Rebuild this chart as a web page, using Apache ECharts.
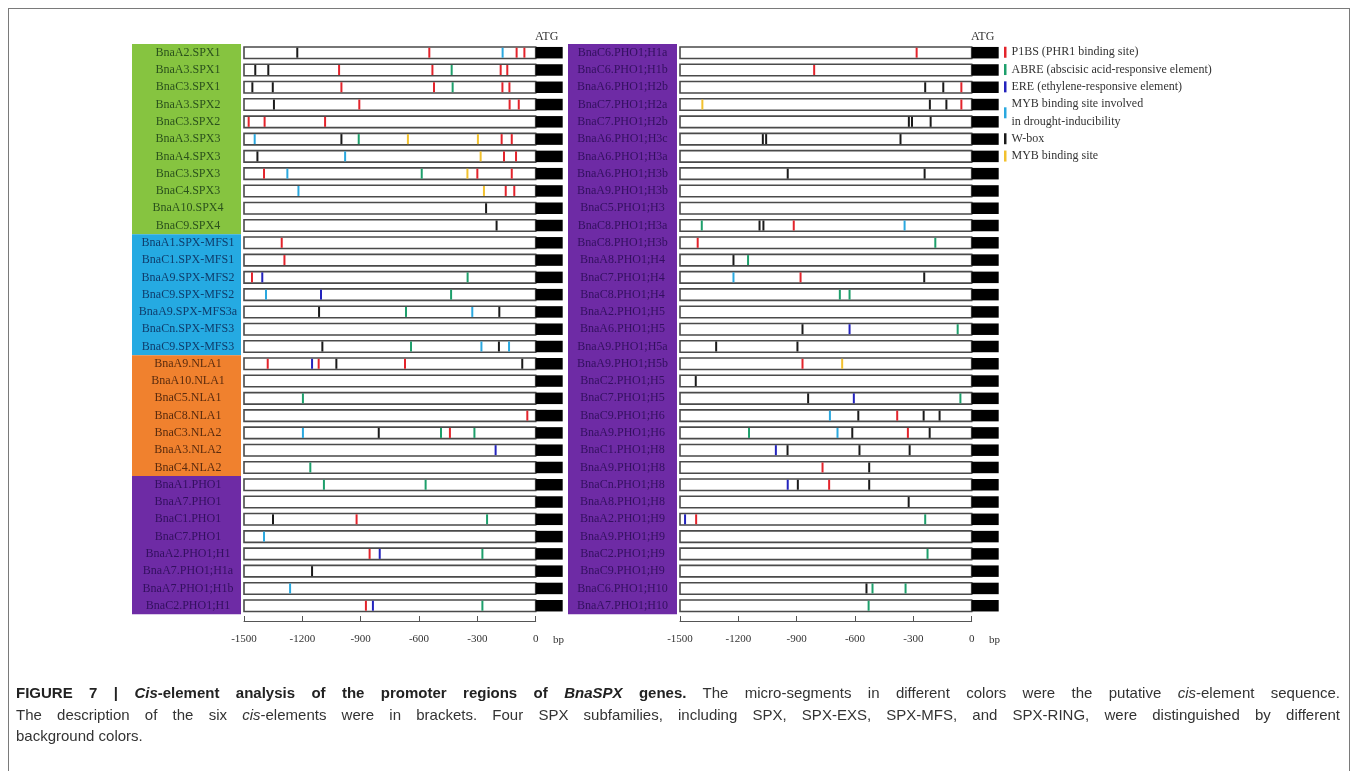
<!DOCTYPE html>
<html><head><meta charset="utf-8">
<script src="https://cdn.jsdelivr.net/npm/echarts@6/dist/echarts.min.js"></script>
<style>
html,body{margin:0;padding:0;background:#fff;}
#frame{position:absolute;left:8px;top:8px;width:1342px;height:800px;border:1px solid #7a7a7a;box-sizing:border-box;}
#chart{position:absolute;left:0;top:0;width:1358px;height:771px;}
#cap{position:absolute;left:16px;top:682px;width:1324px;font-family:"Liberation Sans",Arial,sans-serif;font-size:15px;line-height:21.5px;color:#333;}
#cap div{text-align:justify;text-align-last:justify;white-space:nowrap;}
#cap div.last{text-align-last:left;}
#cap b{color:#222;}
</style></head><body>
<div id="frame"></div>
<div id="chart"></div>
<div id="cap">
<div><b>FIGURE 7 | <i>Cis</i>-element analysis of the promoter regions of <i>BnaSPX</i> genes.</b> The micro-segments in different colors were the putative <i>cis</i>-element sequence.</div>
<div>The description of the six <i>cis</i>-elements were in brackets. Four SPX subfamilies, including SPX, SPX-EXS, SPX-MFS, and SPX-RING, were distinguished by different</div>
<div class="last">background colors.</div>
</div>
<script>
// ---------------- data ----------------
const leftRows = ["BnaA2.SPX1","BnaA3.SPX1","BnaC3.SPX1","BnaA3.SPX2","BnaC3.SPX2","BnaA3.SPX3","BnaA4.SPX3","BnaC3.SPX3","BnaC4.SPX3","BnaA10.SPX4","BnaC9.SPX4","BnaA1.SPX-MFS1","BnaC1.SPX-MFS1","BnaA9.SPX-MFS2","BnaC9.SPX-MFS2","BnaA9.SPX-MFS3a","BnaCn.SPX-MFS3","BnaC9.SPX-MFS3","BnaA9.NLA1","BnaA10.NLA1","BnaC5.NLA1","BnaC8.NLA1","BnaC3.NLA2","BnaA3.NLA2","BnaC4.NLA2","BnaA1.PHO1","BnaA7.PHO1","BnaC1.PHO1","BnaC7.PHO1","BnaA2.PHO1;H1","BnaA7.PHO1;H1a","BnaA7.PHO1;H1b","BnaC2.PHO1;H1"];
const rightRows = ["BnaC6.PHO1;H1a","BnaC6.PHO1;H1b","BnaA6.PHO1;H2b","BnaC7.PHO1;H2a","BnaC7.PHO1;H2b","BnaA6.PHO1;H3c","BnaA6.PHO1;H3a","BnaA6.PHO1;H3b","BnaA9.PHO1;H3b","BnaC5.PHO1;H3","BnaC8.PHO1;H3a","BnaC8.PHO1;H3b","BnaA8.PHO1;H4","BnaC7.PHO1;H4","BnaC8.PHO1;H4","BnaA2.PHO1;H5","BnaA6.PHO1;H5","BnaA9.PHO1;H5a","BnaA9.PHO1;H5b","BnaC2.PHO1;H5","BnaC7.PHO1;H5","BnaC9.PHO1;H6","BnaA9.PHO1;H6","BnaC1.PHO1;H8","BnaA9.PHO1;H8","BnaCn.PHO1;H8","BnaA8.PHO1;H8","BnaA2.PHO1;H9","BnaA9.PHO1;H9","BnaC2.PHO1;H9","BnaC9.PHO1;H9","BnaC6.PHO1;H10","BnaA7.PHO1;H10"];

// subfamily blocks: [name, first row, last row]
const leftGroups = [["SPX",0,10],["SPX-MFS",11,17],["NLA",18,24],["PHO1",25,32]];
const rightGroups = [["PHO1",0,32]];

const elementTypes = ["P1BS (PHR1 binding site)","ABRE (abscisic acid-responsive element)","ERE (ethylene-responsive element)","MYB binding site involved\nin drought-inducibility","W-box","MYB binding site"];

const xTicks = [-1500,-1200,-900,-600,-300,0];
const promoterStart = -1500;
const atgEnd = 139;   // extent of the ATG block (bp)

// element positions (bp upstream of ATG), left panel
const leftP1BS = [["BnaA2.SPX1",-547],["BnaA2.SPX1",-98],["BnaA2.SPX1",-58],["BnaA3.SPX1",-1011],["BnaA3.SPX1",-531],["BnaA3.SPX1",-180],["BnaA3.SPX1",-146],["BnaC3.SPX1",-999],["BnaC3.SPX1",-523],["BnaC3.SPX1",-171],["BnaC3.SPX1",-135],["BnaA3.SPX2",-907],["BnaA3.SPX2",-134],["BnaA3.SPX2",-87],["BnaC3.SPX2",-1476],["BnaC3.SPX2",-1394],["BnaC3.SPX2",-1083],["BnaA3.SPX3",-175],["BnaA3.SPX3",-123],["BnaA4.SPX3",-163],["BnaA4.SPX3",-101],["BnaC3.SPX3",-1397],["BnaC3.SPX3",-300],["BnaC3.SPX3",-123],["BnaC4.SPX3",-154],["BnaC4.SPX3",-110],["BnaA1.SPX-MFS1",-1306],["BnaC1.SPX-MFS1",-1292],["BnaA9.SPX-MFS2",-1459],["BnaA9.NLA1",-1378],["BnaA9.NLA1",-1116],["BnaA9.NLA1",-672],["BnaC8.NLA1",-43],["BnaC3.NLA2",-441],["BnaC1.PHO1",-921],["BnaA2.PHO1;H1",-854],["BnaC2.PHO1;H1",-873]];
const leftABRE = [["BnaA3.SPX1",-432],["BnaC3.SPX1",-427],["BnaA3.SPX3",-910],["BnaC3.SPX3",-586],["BnaA9.SPX-MFS2",-350],["BnaC9.SPX-MFS2",-435],["BnaA9.SPX-MFS3a",-667],["BnaC9.SPX-MFS3",-641],["BnaC5.NLA1",-1197],["BnaC3.NLA2",-487],["BnaC3.NLA2",-315],["BnaC4.NLA2",-1159],["BnaA1.PHO1",-1089],["BnaA1.PHO1",-566],["BnaC1.PHO1",-250],["BnaA2.PHO1;H1",-274],["BnaC2.PHO1;H1",-274]];
const leftERE = [["BnaA9.SPX-MFS2",-1406],["BnaC9.SPX-MFS2",-1104],["BnaA9.NLA1",-1150],["BnaA3.NLA2",-206],["BnaA2.PHO1;H1",-802],["BnaC2.PHO1;H1",-837]];
const leftMYBdrought = [["BnaA2.SPX1",-170],["BnaA3.SPX3",-1445],["BnaA4.SPX3",-980],["BnaC3.SPX3",-1277],["BnaC4.SPX3",-1220],["BnaC9.SPX-MFS2",-1387],["BnaA9.SPX-MFS3a",-326],["BnaC9.SPX-MFS3",-279],["BnaC9.SPX-MFS3",-137],["BnaC3.NLA2",-1197],["BnaC7.PHO1",-1397],["BnaA7.PHO1;H1b",-1263]];
const leftWbox = [["BnaA2.SPX1",-1226],["BnaA3.SPX1",-1442],["BnaA3.SPX1",-1375],["BnaC3.SPX1",-1457],["BnaC3.SPX1",-1352],["BnaA3.SPX2",-1346],["BnaA3.SPX3",-999],["BnaA4.SPX3",-1431],["BnaA10.SPX4",-255],["BnaC9.SPX4",-201],["BnaA9.SPX-MFS3a",-1114],["BnaA9.SPX-MFS3a",-187],["BnaC9.SPX-MFS3",-1097],["BnaC9.SPX-MFS3",-189],["BnaA9.NLA1",-1025],["BnaA9.NLA1",-69],["BnaC3.NLA2",-807],["BnaC1.PHO1",-1351],["BnaA7.PHO1;H1a",-1150]];
const leftMYB = [["BnaA3.SPX3",-657],["BnaA3.SPX3",-297],["BnaA4.SPX3",-283],["BnaC3.SPX3",-351],["BnaC4.SPX3",-266]];

// right panel
const rightP1BS = [["BnaC6.PHO1;H1a",-283],["BnaC6.PHO1;H1b",-810],["BnaA6.PHO1;H2b",-53],["BnaC7.PHO1;H2a",-53],["BnaC8.PHO1;H3a",-915],["BnaC8.PHO1;H3b",-1409],["BnaC7.PHO1;H4",-880],["BnaA9.PHO1;H5b",-870],["BnaC9.PHO1;H6",-383],["BnaA9.PHO1;H6",-328],["BnaA9.PHO1;H8",-767],["BnaCn.PHO1;H8",-733],["BnaA2.PHO1;H9",-1417]];
const rightABRE = [["BnaC8.PHO1;H3a",-1388],["BnaC8.PHO1;H3b",-187],["BnaA8.PHO1;H4",-1150],["BnaC8.PHO1;H4",-678],["BnaC8.PHO1;H4",-628],["BnaA6.PHO1;H5",-72],["BnaC7.PHO1;H5",-58],["BnaA9.PHO1;H6",-1145],["BnaA2.PHO1;H9",-239],["BnaC2.PHO1;H9",-227],["BnaC6.PHO1;H10",-510],["BnaC6.PHO1;H10",-340],["BnaA7.PHO1;H10",-530]];
const rightERE = [["BnaA6.PHO1;H5",-628],["BnaC7.PHO1;H5",-606],["BnaC1.PHO1;H8",-1007],["BnaCn.PHO1;H8",-946],["BnaA2.PHO1;H9",-1474]];
const rightMYBdrought = [["BnaC8.PHO1;H3a",-345],["BnaC7.PHO1;H4",-1225],["BnaC9.PHO1;H6",-729],["BnaA9.PHO1;H6",-690]];
const rightWbox = [["BnaA6.PHO1;H2b",-239],["BnaA6.PHO1;H2b",-146],["BnaC7.PHO1;H2a",-215],["BnaC7.PHO1;H2a",-130],["BnaC7.PHO1;H2b",-323],["BnaC7.PHO1;H2b",-307],["BnaC7.PHO1;H2b",-211],["BnaA6.PHO1;H3c",-1074],["BnaA6.PHO1;H3c",-1057],["BnaA6.PHO1;H3c",-366],["BnaA6.PHO1;H3b",-946],["BnaA6.PHO1;H3b",-242],["BnaC8.PHO1;H3a",-1091],["BnaC8.PHO1;H3a",-1071],["BnaA8.PHO1;H4",-1225],["BnaC7.PHO1;H4",-244],["BnaA6.PHO1;H5",-870],["BnaA9.PHO1;H5a",-1314],["BnaA9.PHO1;H5a",-896],["BnaC2.PHO1;H5",-1419],["BnaC7.PHO1;H5",-841],["BnaC9.PHO1;H6",-583],["BnaC9.PHO1;H6",-247],["BnaC9.PHO1;H6",-165],["BnaA9.PHO1;H6",-614],["BnaA9.PHO1;H6",-216],["BnaC1.PHO1;H8",-947],["BnaC1.PHO1;H8",-577],["BnaC1.PHO1;H8",-319],["BnaA9.PHO1;H8",-527],["BnaCn.PHO1;H8",-894],["BnaCn.PHO1;H8",-527],["BnaA8.PHO1;H8",-324],["BnaC6.PHO1;H10",-541]];
const rightMYB = [["BnaC7.PHO1;H2a",-1385],["BnaA9.PHO1;H5b",-666]];

// ---------------- style ----------------
const SERIF = '"Liberation Serif","Times New Roman",serif';
const elementColors = ['#e3232b','#1d9f6b','#2323bd','#2aa8df','#1a1a1a','#f2c12e'];
const groupFill = {"SPX":'#86c440',"SPX-MFS":'#25aae2',"NLA":'#f0812e',"PHO1":'#6e2ba5'};
const groupText = {"SPX":'#2b521c',"SPX-MFS":'#0f3d6c',"NLA":'#5a2b0e',"PHO1":'#33105f'};
const BAR_H = 11.5, EL_H = 10;

const panels = [
  {rows:leftRows, groups:leftGroups, els:[leftP1BS,leftABRE,leftERE,leftMYBdrought,leftWbox,leftMYB], left:244, labelMargin:56},
  {rows:rightRows, groups:rightGroups, els:[rightP1BS,rightABRE,rightERE,rightMYBdrought,rightWbox,rightMYB], left:680, labelMargin:57.5}
];
const GRID_TOP = 44.06, GRID_H = 570.3, BP_W = 291.7, ATG_W = 27;

// grids: 0 = left panel, 1 = right panel, 2 = left scale, 3 = right scale
const grid = [], xAxis = [], yAxis = [], series = [];
panels.forEach((p, k) => {
  grid[k] = {left:p.left, top:GRID_TOP, width:BP_W+ATG_W, height:GRID_H};
  grid[k+2] = {left:p.left, top:600, width:BP_W, height:21};
  const groupOf = {};
  p.groups.forEach(g => { for (let i=g[1]; i<=g[2]; i++) groupOf[p.rows[i]] = g[0]; });
  xAxis[k] = {gridIndex:k, type:'value', min:promoterStart, max:atgEnd, show:false};
  yAxis[k] = {gridIndex:k, type:'category', data:p.rows, inverse:true, z:10,
    axisLine:{show:false}, axisTick:{show:false}, splitLine:{show:false},
    axisLabel:{interval:0, align:'center', margin:p.labelMargin, fontFamily:SERIF, fontSize:12,
      color:(v)=>groupText[groupOf[v]]}};
  xAxis[k+2] = {gridIndex:k+2, type:'value', min:xTicks[0], max:xTicks[xTicks.length-1], interval:300, position:'bottom',
    axisLine:{lineStyle:{color:'#555', width:1}},
    axisTick:{inside:true, length:5, lineStyle:{color:'#555'}},
    splitLine:{show:false},
    axisLabel:{margin:13, fontFamily:SERIF, fontSize:11, color:'#333', formatter:(v)=>String(v)}};
  yAxis[k+2] = {gridIndex:k+2, type:'value', show:false, min:0, max:1};

  // subfamily background blocks
  series.push({type:'custom', xAxisIndex:k, yAxisIndex:k, z:1, silent:true,
    data:p.groups.map(g=>[promoterStart, g[1], g[2]]),
    encode:{x:0, y:[1,2]},
    renderItem:(params, api)=>{
      const g = p.groups[params.dataIndex];
      const band = api.size([0,1])[1];
      const t = api.coord([promoterStart, api.value(1)])[1] - band/2;
      const b = api.coord([promoterStart, api.value(2)])[1] + band/2;
      const cs = params.coordSys;
      return {type:'rect', shape:{x:cs.x-112, y:t, width:109, height:b-t}, style:{fill:groupFill[g[0]]}};
    }});
  // promoter bars + ATG block
  series.push({type:'custom', xAxisIndex:k, yAxisIndex:k, z:2, silent:true,
    data:p.rows.map((n,i)=>[promoterStart, i]),
    encode:{x:0, y:1},
    renderItem:(params, api)=>{
      const i = api.value(1);
      const a = api.coord([promoterStart, i]), b = api.coord([0, i]), c = api.coord([atgEnd, i]);
      return {type:'group', children:[
        {type:'rect', shape:{x:a[0], y:a[1]-BAR_H/2, width:b[0]-a[0], height:BAR_H}, style:{fill:'#fff', stroke:'#4a4a4a', lineWidth:1.6}},
        {type:'rect', shape:{x:b[0], y:b[1]-BAR_H/2, width:c[0]-b[0], height:BAR_H}, style:{fill:'#000'}}
      ]};
    }});
  // cis-elements
  p.els.forEach((arr, t) => {
    series.push({type:'custom', name:elementTypes[t], xAxisIndex:k, yAxisIndex:k, z:3,
      itemStyle:{color:elementColors[t]},
      data:arr.map(([n,v])=>[v, p.rows.indexOf(n)]),
      encode:{x:0, y:1},
      renderItem:(params, api)=>{
        const c = api.coord([api.value(0), api.value(1)]);
        return {type:'rect', shape:{x:c[0]-1, y:c[1]-EL_H/2, width:2, height:EL_H}, style:{fill:api.visual('color')}};
      }});
  });
});

const chart = echarts.init(document.getElementById('chart'), null, {renderer:'canvas'});
chart.setOption({
  animation:false,
  grid, xAxis, yAxis, series,
  legend:{data:elementTypes, orient:'vertical', left:1004, top:43.6, padding:0, itemGap:0, itemWidth:2.5, itemHeight:11,
    icon:'rect', selectedMode:false,
    textStyle:{fontFamily:SERIF, fontSize:12, color:'#333', lineHeight:17.3}},
  graphic:[
    {type:'text', left:535, top:31, style:{text:'ATG', font:'12px '+SERIF, fill:'#333'}},
    {type:'text', left:971, top:31, style:{text:'ATG', font:'12px '+SERIF, fill:'#333'}},
    {type:'text', left:553, top:635, style:{text:'bp', font:'11px '+SERIF, fill:'#333'}},
    {type:'text', left:989, top:635, style:{text:'bp', font:'11px '+SERIF, fill:'#333'}}
  ]
});
</script>
</body></html>
